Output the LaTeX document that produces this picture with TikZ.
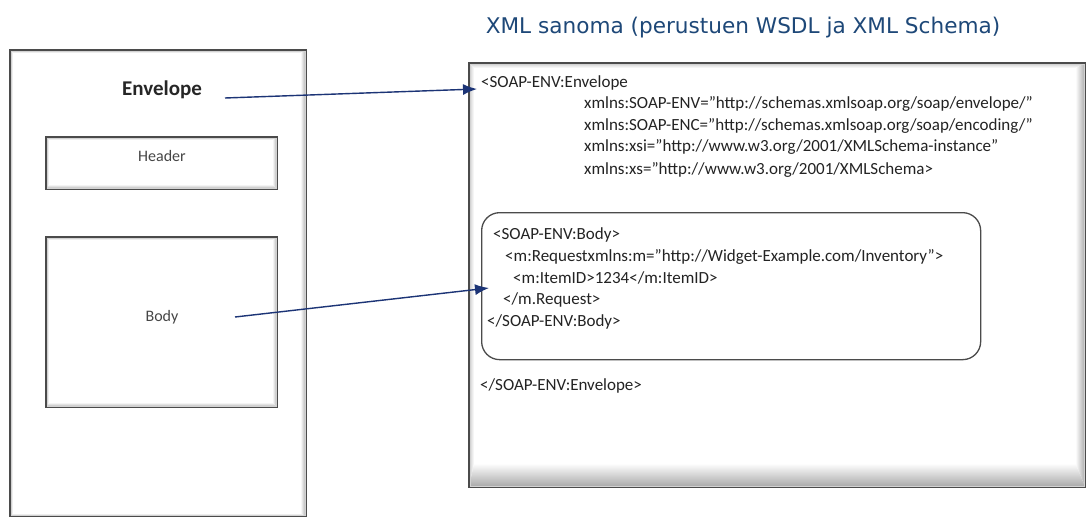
\documentclass[tikz,border=0pt]{standalone}
\usepackage{fontspec}
\setmainfont{Carlito}
\newfontfamily\titlefont{DejaVu Sans}
\usetikzlibrary{arrows.meta,calc}

\definecolor{navy}{RGB}{28,52,118}
\definecolor{titleblue}{RGB}{30,72,120}
\definecolor{codegray}{RGB}{35,35,35}
\definecolor{labelgray}{RGB}{70,70,70}
\definecolor{framegray}{RGB}{75,75,75}

% Bevelled frame round a named node: #2 top, #3 right, #4 bottom, #5 left band widths (pt)
\newcommand\bevelframe[5]{%
  \shade[top color=gray!40,bottom color=white]
    (#1.north west) -- (#1.north east) -- ([shift={(-#3pt,-#2pt)}]#1.north east)
    -- ([shift={(#5pt,-#2pt)}]#1.north west) -- cycle;
  \shade[left color=gray!40,right color=white]
    (#1.north west) -- ([shift={(#5pt,-#2pt)}]#1.north west)
    -- ([shift={(#5pt,#4pt)}]#1.south west) -- (#1.south west) -- cycle;
  \shade[left color=white,right color=gray!70]
    (#1.north east) -- (#1.south east) -- ([shift={(-#3pt,#4pt)}]#1.south east)
    -- ([shift={(-#3pt,-#2pt)}]#1.north east) -- cycle;
  \shade[top color=white,bottom color=gray!70]
    (#1.south west) -- (#1.south east) -- ([shift={(-#3pt,#4pt)}]#1.south east)
    -- ([shift={(#5pt,#4pt)}]#1.south west) -- cycle;
  \draw[gray!35,line width=0.6pt] ([shift={(1.2pt,-1.2pt)}]#1.north west) rectangle ([shift={(-1.2pt,1.2pt)}]#1.south east);
  \draw[framegray,line width=1.3pt] (#1.north west) rectangle (#1.south east);
}

\tikzset{
  box/.style={inner sep=0pt,anchor=north west,fill=white},
  code/.style={anchor=west,inner sep=0pt,text=codegray,font=\fontsize{17}{20}\selectfont},
  label/.style={inner sep=0pt,text=labelgray,font=\fontsize{16}{19}\selectfont},
  link/.style={navy,line width=1.4pt,-{Latex[length=14pt,width=11pt]}},
  bodyframe/.style={draw=framegray,line width=1.3pt,rounded corners=18pt}
}

\begin{document}
\begin{tikzpicture}[x=1pt,y=-1pt]
\useasboundingbox (0,0) rectangle (1086,517);
\fill[white] (0,0) rectangle (1086,517);

% left side: structure of a SOAP message
\node[box,minimum width=296pt,minimum height=466pt] (env) at (10,50) {};
\bevelframe{env}{3}{6}{3}{3}
\node[box,minimum width=231pt,minimum height=52pt] (hdr) at (46,137) {};
\bevelframe{hdr}{3}{5}{5}{3}
\node[box,minimum width=231pt,minimum height=170pt] (bdy) at (46,237) {};
\bevelframe{bdy}{3}{5}{5}{3}

\node[inner sep=0pt,text=black!85,font=\fontsize{21}{24}\selectfont\bfseries] (envlabel) at (162,90) {Envelope};
\node[label] (hdrlabel) at (162,156) {Header};
\node[label] (bdylabel) at (162,317) {Body};

% right side: the XML message
\node[inner sep=0pt,text=titleblue,font=\titlefont\fontsize{21.6}{26}\selectfont] (title) at (743,28) {XML sanoma (perustuen WSDL ja XML Schema)};

\node[box,minimum width=616pt,minimum height=424pt] (xml) at (469,63) {};
\bevelframe{xml}{5}{10}{24}{5}

\node[code] (l1) at (481,83) {<SOAP-ENV:Envelope};
\node[code] (l2) at (584,104) {xmlns:SOAP-ENV="http://schemas.xmlsoap.org/soap/envelope/"};
\node[code] (l3) at (584,126) {xmlns:SOAP-ENC="http://schemas.xmlsoap.org/soap/encoding/"};
\node[code] (l4) at (584,147) {xmlns:xsi="http://www.w3.org/2001/XMLSchema-instance"};
\node[code] (l5) at (584,170) {xmlns:xs="http://www.w3.org/2001/XMLSchema>};

\node[box,bodyframe,minimum width=499pt,minimum height=147pt] (xbody) at (481,212) {};
\node[code] (b1) at (493,235) {<SOAP-ENV:Body>};
\node[code] (b2) at (505,257) {<m:Requestxmlns:m="http://Widget-Example.com/Inventory">};
\node[code] (b3) at (513,278) {<m:ItemID>1234</m:ItemID>};
\node[code] (b4) at (503,300) {</m.Request>};
\node[code] (b5) at (487,322) {</SOAP-ENV:Body>};

\node[code] (l6) at (480,386) {</SOAP-ENV:Envelope>};

% connectors
\coordinate (envtail) at (225,98);
\coordinate (envhead) at (477,89);
\coordinate (bdytail) at (235,317);
\coordinate (bdyhead) at (489,288);
\draw[link] (envtail) -- (envhead);
\draw[link] (bdytail) -- (bdyhead);
\end{tikzpicture}
\end{document}
